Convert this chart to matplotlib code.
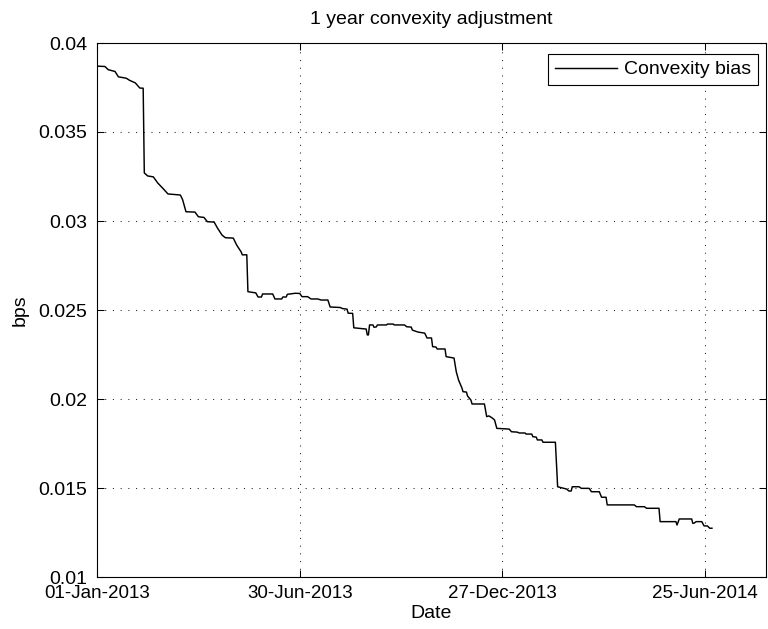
import matplotlib
matplotlib.use("Agg")
import matplotlib.pyplot as plt
import matplotlib.dates as mdates
import pandas as pd
import numpy as np

plt.rcParams['font.family'] = ['Liberation Sans', 'DejaVu Sans']

# ---- data ----
start_date = "2013-01-01"
day_offsets = [0, 7, 10, 16, 19, 26, 29, 34, 38, 41, 42, 45, 50, 54, 59, 63, 74, 76, 79, 87,
               90, 95, 98, 104, 107, 111, 114, 121, 124, 128, 129, 133, 134, 141, 143, 146, 147, 156, 158, 164,
               165, 168, 169, 176, 180, 182, 187, 190, 196, 199, 205, 207, 216, 218, 222, 223, 227, 228, 239, 240,
               241, 242, 245, 246, 248, 249, 257, 258, 263, 264, 273, 275, 279, 280, 285, 291, 293, 297, 298, 301,
               302, 309, 310, 317, 319, 321, 324, 325, 328, 329, 332, 333, 344, 346, 348, 351, 353, 355, 366, 368,
               373, 375, 380, 381, 386, 387, 390, 391, 395, 396, 407, 408, 409, 417, 419, 421, 422, 428, 430, 437,
               439, 446, 448, 452, 453, 477, 479, 486, 488, 499, 500, 514, 515, 517, 528, 529, 530, 532, 537, 539,
               542, 544, 546]
bias = [0.03870, 0.03868, 0.03850, 0.03840, 0.03810, 0.03802, 0.03790, 0.03776, 0.03747, 0.03746,
        0.03270, 0.03253, 0.03248, 0.03213, 0.03180, 0.03152, 0.03146, 0.03120, 0.03052, 0.03050,
        0.03024, 0.03020, 0.02996, 0.02994, 0.02960, 0.02921, 0.02906, 0.02904, 0.02865, 0.02826,
        0.02810, 0.02810, 0.02603, 0.02596, 0.02573, 0.02573, 0.02590, 0.02590, 0.02562, 0.02562,
        0.02573, 0.02573, 0.02588, 0.02594, 0.02593, 0.02575, 0.02575, 0.02562, 0.02562, 0.02556,
        0.02556, 0.02517, 0.02514, 0.02508, 0.02505, 0.02482, 0.02481, 0.02400, 0.02393, 0.02360,
        0.02360, 0.02416, 0.02416, 0.02403, 0.02405, 0.02416, 0.02416, 0.02421, 0.02421, 0.02416,
        0.02416, 0.02406, 0.02404, 0.02387, 0.02376, 0.02370, 0.02343, 0.02343, 0.02294, 0.02292,
        0.02281, 0.02281, 0.02238, 0.02230, 0.02153, 0.02107, 0.02062, 0.02041, 0.02039, 0.02017,
        0.01994, 0.01972, 0.01972, 0.01901, 0.01905, 0.01893, 0.01882, 0.01835, 0.01831, 0.01816,
        0.01814, 0.01809, 0.01809, 0.01803, 0.01803, 0.01788, 0.01786, 0.01770, 0.01770, 0.01757,
        0.01757, 0.01629, 0.01507, 0.01494, 0.01483, 0.01483, 0.01507, 0.01507, 0.01498, 0.01498,
        0.01479, 0.01479, 0.01448, 0.01448, 0.01405, 0.01405, 0.01395, 0.01395, 0.01386, 0.01386,
        0.01311, 0.01311, 0.01292, 0.01326, 0.01326, 0.01302, 0.01302, 0.01311, 0.01311, 0.01287,
        0.01287, 0.01274, 0.01274]
tick_offsets = [0, 180, 360, 540]
xlim_days = 594
yticks = [0.01, 0.015, 0.02, 0.025, 0.03, 0.035, 0.04]
ytick_labels = ['0.01', '0.015', '0.02', '0.025', '0.03', '0.035', '0.04']
series_label = 'Convexity bias'
title = '1 year convexity adjustment'

# ---- figure ----
W, H = 768, 629
fig = plt.figure(figsize=(W / 100, H / 100), dpi=100)
L, R, T, B = 97, 766, 43, 577
ax = fig.add_axes([L / W, 1 - B / H, (R - L) / W, (B - T) / H])

t0 = pd.Timestamp(start_date)
dates = [t0 + pd.Timedelta(days=d) for d in day_offsets]
ax.plot(dates, bias, color='black', lw=1.05, label=series_label)

ax.set_xlim(t0, t0 + pd.Timedelta(days=xlim_days))
ax.set_ylim(0.01, 0.04)
ax.set_xticks([t0 + pd.Timedelta(days=d) for d in tick_offsets])
ax.xaxis.set_major_formatter(mdates.DateFormatter('%d-%b-%Y'))
ax.set_yticks(yticks)
ax.set_yticklabels(ytick_labels)

fs = 14
ax.tick_params(direction='in', length=5, width=0.75, top=True, right=True,
               colors='black')
ax.tick_params(axis='x', pad=6.0, labelsize=13.5)
ax.tick_params(axis='y', pad=7, labelsize=14)
for s in ax.spines.values():
    s.set_linewidth(0.8)
    s.set_color('black')

ax.grid(True, color='#222222', linestyle=(0, (1, 6.4)), linewidth=0.75)

ax.set_xlabel('Date', fontsize=fs, va='center')
ax.xaxis.set_label_coords(0.5, -(613 - B) / (B - T))
ax.set_ylabel('bps', fontsize=fs, va='center')
ax.yaxis.set_label_coords(-(L - 20) / (R - L), 0.5)
ax.text(0.5, 1 + (T - 20) / (B - T), title, transform=ax.transAxes,
        ha='center', va='center', fontsize=fs)

leg = ax.legend(loc='upper right', bbox_to_anchor=(1 - 8 / (R - L), 1 - 11 / (B - T)),
                borderaxespad=0, fancybox=False, framealpha=1, edgecolor='black',
                fontsize=fs, handlelength=3.2, handletextpad=0.36, borderpad=0.35)
leg.get_frame().set_linewidth(0.8)

fig.savefig('out.png', dpi=100)
